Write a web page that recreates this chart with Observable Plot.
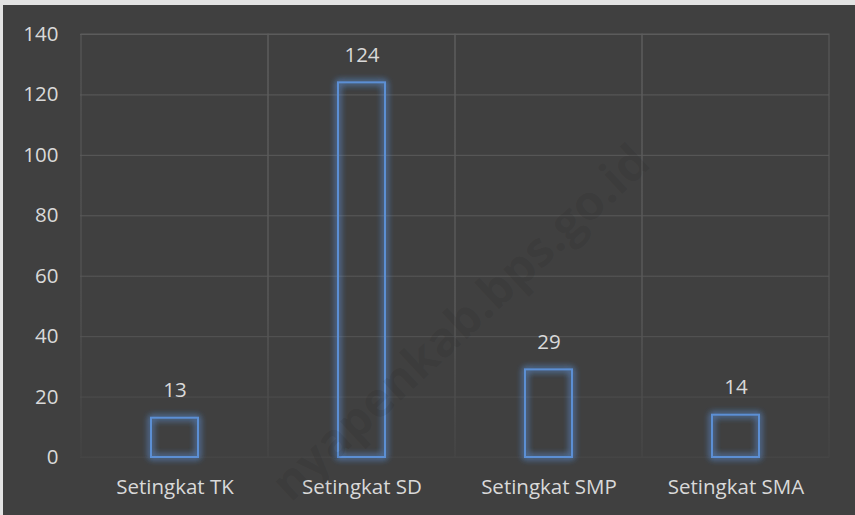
<!DOCTYPE html>
<html><head><meta charset="utf-8">
<script src="https://cdn.jsdelivr.net/npm/d3@7"></script>
<script src="https://cdn.jsdelivr.net/npm/@observablehq/plot@0.6"></script>
<style>
html,body{margin:0;padding:0;background:#404040;overflow:hidden}
#wrap{position:relative;width:855px;height:515px;box-sizing:border-box;border-top:5px solid #e3e3e3;border-left:3px solid #e3e3e3;background:#404040;overflow:hidden}
#wrap svg{display:block}
#wm{position:absolute;left:456px;top:316px;transform:translate(-50%,-50%) rotate(-43deg);white-space:nowrap;font-family:'Open Sans',sans-serif;font-weight:700;font-size:48px;color:rgba(0,0,0,0.08);pointer-events:none}
</style></head><body><div id="wrap"></div><script>
const categories = ["Setingkat TK", "Setingkat SD", "Setingkat SMP", "Setingkat SMA"];
const values = [13, 124, 29, 14];
const yTicks = [0, 20, 40, 60, 80, 100, 120, 140];
const watermark = "nyapenkab.bps.go.id";

const data = categories.map((c, i) => ({category: c, value: values[i]}));

const plot = Plot.plot({
  width: 852, height: 510,
  marginLeft: 77, marginRight: 26, marginTop: 29, marginBottom: 58,
  style: {background: "#404040", color: "#d9d9d9", fontFamily: "'Open Sans', sans-serif", fontSize: "20.5px"},
  x: {domain: categories, padding: 0, label: null, tickSize: 0, tickPadding: 22},
  y: {domain: [0, 140], ticks: yTicks, label: null, tickSize: 0, tickPadding: 22},
  marks: [
    Plot.barY(categories, {x: d => d, y1: 0, y2: 140, fill: "none", stroke: "url(#gridGrad)", strokeWidth: 1}),
    Plot.ruleY(yTicks, {stroke: "url(#gridGrad)", strokeWidth: 1}),
    Plot.barY(data, {x: "category", y: "value", fill: "none", stroke: "#5b8fd4", strokeWidth: 2, insetLeft: 70, insetRight: 70}),
    Plot.text(data, {x: "category", y: "value", text: d => String(d.value), dy: -21, lineAnchor: "bottom", fill: "#d9d9d9"})
  ]
});

const svg = d3.select(plot);
const defs = svg.insert("defs", ":first-child");
const g = defs.append("linearGradient").attr("id", "gridGrad")
  .attr("gradientUnits", "userSpaceOnUse").attr("x1", 0).attr("x2", 0).attr("y1", 29).attr("y2", 452);
g.append("stop").attr("offset", 0).attr("stop-color", "#5c5c5c");
g.append("stop").attr("offset", 0.65).attr("stop-color", "#575757");
g.append("stop").attr("offset", 1).attr("stop-color", "#454545");
const f = defs.append("filter").attr("id", "glow").attr("x", "-50%").attr("y", "-50%").attr("width", "200%").attr("height", "200%");
f.append("feGaussianBlur").attr("in", "SourceGraphic").attr("stdDeviation", 3.5).attr("result", "b");
const m = f.append("feMerge");
m.append("feMergeNode").attr("in", "b");
m.append("feMergeNode").attr("in", "b");
m.append("feMergeNode").attr("in", "SourceGraphic");
const bars = plot.querySelectorAll('g[aria-label="bar"]');
if (bars.length > 1) bars[1].setAttribute("filter", "url(#glow)");

const wrap = document.getElementById("wrap");
wrap.appendChild(plot);
const wm = document.createElement("div");
wm.id = "wm";
wm.textContent = watermark;
wrap.appendChild(wm);
</script></body></html>
